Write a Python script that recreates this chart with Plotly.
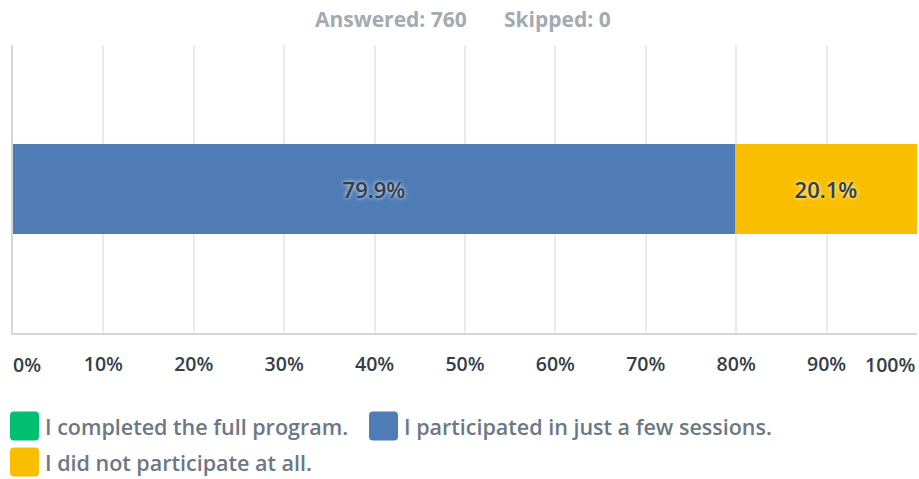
import plotly.graph_objects as go

# ---- data ----
categories = ["I completed the full program.",
              "I participated in just a few sessions.",
              "I did not participate at all."]
values = [0.0, 79.9, 20.1]
colors = ["#00bf6f", "#507cb6", "#f9be00"]
tick_vals = [0, 10, 20, 30, 40, 50, 60, 70, 80, 90, 100]
tick_labels = ["0%", "10%", "20%", "30%", "40%", "50%", "60%", "70%", "80%", "90%", "100%"]
answered = 760
skipped = 0

W, H = 919, 479
ML, MR, MT, MB = 13, 2, 45, 146
PW = W - ML - MR
PH = H - MT - MB
FONT = "Open Sans"

def px_to_paper_x(px):
    return (px - ML) / PW

def px_to_paper_y(py):
    return (H - MB - py) / PH

fig = go.Figure()
for name, v, c in zip(categories, values, colors):
    fig.add_trace(go.Bar(
        x=[v], y=[""], orientation="h", name=name,
        marker=dict(color=c, line=dict(width=0)),
        text=[f"{v:.1f}%" if v > 0 else ""],
        textposition="inside", insidetextanchor="middle",
        textfont=dict(family=FONT, size=22, color="#333e48", weight=600,
                      shadow="0px 0px 4px rgba(255,255,255,0.9)"),
        width=0.3125, showlegend=False, hoverinfo="skip",
    ))

# inner tick labels (edge labels placed as annotations so they stay inside)
inner_text = [t if v not in (0, 100) else "" for v, t in zip(tick_vals, tick_labels)]
tick_font = dict(family=FONT, size=19.5, color="#333e48", weight=600)

fig.update_layout(
    width=W, height=H,
    margin=dict(l=ML, r=MR, t=MT, b=MB),
    barmode="stack",
    plot_bgcolor="white", paper_bgcolor="white",
    bargap=0,
    xaxis=dict(range=[0, 100], tickvals=tick_vals, ticktext=inner_text,
               showgrid=True, gridcolor="#ebebeb", gridwidth=1.5,
               zeroline=False, showline=True, linecolor="#d6d6d6", linewidth=2,
               ticks="", ticklen=0, tickfont=tick_font,
               ticklabelstandoff=13, fixedrange=True),
    yaxis=dict(range=[-0.5, 0.5], showticklabels=False, showgrid=False,
               zeroline=False, showline=True, linecolor="#d6d6d6", linewidth=2,
               fixedrange=True),
    showlegend=False,
)

annotations = []
# edge tick labels
for v, t in zip(tick_vals, tick_labels):
    if v in (0, 100):
        annotations.append(dict(
            x=v, xref="x", y=px_to_paper_y(364), yref="paper",
            text=t, showarrow=False,
            xanchor="left" if v == 0 else "right", yanchor="middle",
            xshift=-2 if v == 0 else 0,
            font=tick_font))

# header
hdr_font = dict(family=FONT, size=21, color="#a3aab1", weight=700)
annotations.append(dict(x=px_to_paper_x(391), y=px_to_paper_y(19), xref="paper", yref="paper",
                        text=f"Answered: {answered}", showarrow=False,
                        xanchor="center", yanchor="middle", font=hdr_font))
annotations.append(dict(x=px_to_paper_x(557), y=px_to_paper_y(19), xref="paper", yref="paper",
                        text=f"Skipped: {skipped}", showarrow=False,
                        xanchor="center", yanchor="middle", font=hdr_font))

# custom legend
legend_pos = [(10, 426), (369, 426), (10, 462)]
shapes = []
r = 4
s = 14.5
path = (f"M {-s+r},{-s} L {s-r},{-s} Q {s},{-s} {s},{-s+r} L {s},{s-r} Q {s},{s} {s-r},{s} "
        f"L {-s+r},{s} Q {-s},{s} {-s},{s-r} L {-s},{-s+r} Q {-s},{-s} {-s+r},{-s} Z")
for (lx, ly), name, c in zip(legend_pos, categories, colors):
    shapes.append(dict(type="path", xref="paper", yref="paper",
                       xsizemode="pixel", ysizemode="pixel",
                       xanchor=px_to_paper_x(lx + s), yanchor=px_to_paper_y(ly),
                       path=path, fillcolor=c, line=dict(width=0)))
    annotations.append(dict(x=px_to_paper_x(lx + 33), y=px_to_paper_y(ly), xref="paper", yref="paper",
                            text=name, showarrow=False, xanchor="left", yanchor="middle",
                            font=dict(family=FONT, size=21.5, color="#6b7885", weight=600)))

fig.update_layout(annotations=annotations, shapes=shapes)
fig.write_html("out.html", config={"displayModeBar": False},
               post_script="document.body.style.margin='0';document.body.style.overflow='hidden';")
